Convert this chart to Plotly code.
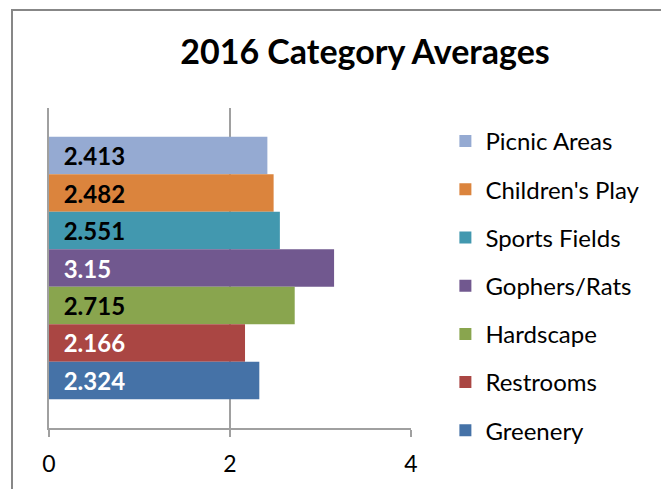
import plotly.graph_objects as go

# Data (top-to-bottom order as shown in the chart)
categories = ["Picnic Areas", "Children's Play", "Sports Fields", "Gophers/Rats",
              "Hardscape", "Restrooms", "Greenery"]
values = [2.413, 2.482, 2.551, 3.15, 2.715, 2.166, 2.324]
colors = ["#95AAD2", "#DB843D", "#4298AF", "#71588F", "#89A54E", "#AA4643", "#4572A7"]
label_colors = ["#000000", "#000000", "#000000", "#FFFFFF", "#000000", "#FFFFFF", "#FFFFFF"]
group_label = ["2016"]
x_ticks = [0, 2, 4]

FONT = "Lato"
GRID = "#A0A0A0"

# page offset of 8px (body margin) is compensated in the margins below
L, T, PW, PH = 41, 100, 362, 320

fig = go.Figure()
for name, val, col, lc in zip(categories, values, colors, label_colors):
    fig.add_trace(go.Bar(
        y=group_label, x=[val], name=name, orientation="h",
        marker=dict(color=col, line=dict(width=0)),
        text=[f"{val:g}"],
        texttemplate="\u00a0\u00a0%{text}",
        textposition="inside", insidetextanchor="start",
        textfont=dict(family=FONT, size=24, color=lc, weight="bold"),
        constraintext="none",
        legendgroup=name,
        hoverinfo="skip",
    ))

fig.update_layout(
    width=669, height=489,
    margin=dict(l=L, r=669 - L - PW, t=T, b=489 - T - PH, autoexpand=False),
    paper_bgcolor="white", plot_bgcolor="white",
    barmode="group", bargap=0.18, bargroupgap=0,
    font=dict(family=FONT, color="#000000"),
    title=dict(text="<b>2016 Category Averages</b>", x=0.873, xref="paper", xanchor="center",
               y=1 - 44 / 489, yref="container", yanchor="middle",
               font=dict(family=FONT, size=34, color="#000000")),
    legend=dict(traceorder="grouped", x=1.095, xanchor="left", y=0.9656, yanchor="top",
                font=dict(family=FONT, size=24, color="#000000"),
                tracegroupgap=14, bgcolor="rgba(0,0,0,0)", maxheight=480),
    showlegend=True,
)
fig.update_xaxes(range=[0, 4], tickvals=x_ticks, ticktext=[str(t) for t in x_ticks],
                 showgrid=True, gridcolor=GRID, gridwidth=1.5,
                 showline=True, linecolor=GRID, linewidth=1.5,
                 ticks="outside", ticklen=7, tickcolor=GRID, tickwidth=1.5,
                 ticklabelstandoff=8,
                 tickfont=dict(family=FONT, size=23, color="#000000"), zeroline=False,
                 fixedrange=True)
fig.update_yaxes(showticklabels=False, showgrid=False, zeroline=False, autorange="reversed",
                 showline=True, linecolor=GRID, linewidth=1.5, fixedrange=True)

# outer chart frame
fig.add_shape(type="rect", xref="paper", yref="paper",
              x0=(4 - L) / PW, x1=(659 - L) / PW,
              y0=(T + PH - 500) / PH, y1=(T + PH - 2) / PH,
              line=dict(color="#878787", width=2), fillcolor="rgba(0,0,0,0)", layer="below")

fig.write_html("out.html")
